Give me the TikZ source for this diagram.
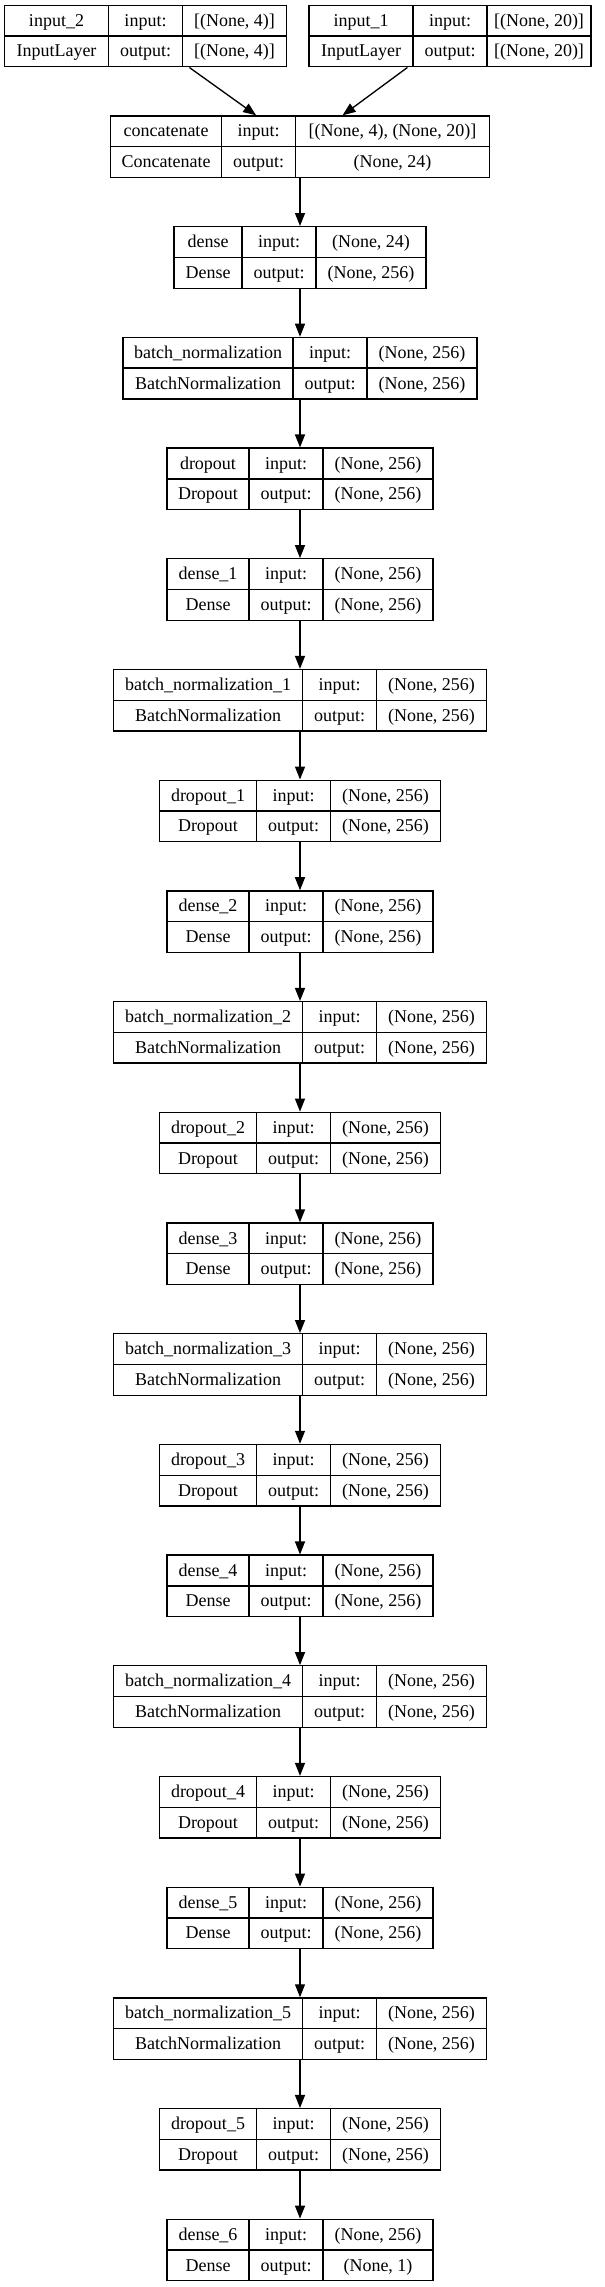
\documentclass[tikz,border=0pt]{standalone}
\usepackage{fontspec}
\setmainfont{Liberation Serif}
\usetikzlibrary{arrows.meta}

\tikzset{every picture/.style={line width=1pt}}
\tikzset{
  layer/.style={draw, rectangle, inner sep=0pt, minimum height=46.125pt},
  txt/.style={inner sep=0pt, anchor=base, font=\fontsize{13.5}{16}\selectfont},
  edge/.style={-{Triangle[length=9.75pt,width=7.5pt]}},
}

% record box: name, centre x, top y, first col, last col, layer, class, input, output
\newcommand{\layerbox}[9]{%
  \pgfmathsetmacro{\lbw}{#4+74+#5}%
  \pgfmathsetmacro{\lbl}{#2-\lbw/2}%
  \node[layer, minimum width=\lbw*0.75pt] (#1) at (#2,#3+30.75) {};
  \draw (#1.west) -- (#1.east);
  \draw (\lbl+#4,#3) -- ++(0,61.5);
  \draw (\lbl+#4+74,#3) -- ++(0,61.5);
  \node[txt] (#1-name) at (\lbl+#4/2,#3+21) {#6};
  \node[txt] (#1-class) at (\lbl+#4/2,#3+51.7) {#7};
  \node[txt] (#1-inlbl) at (\lbl+#4+37,#3+21) {input:};
  \node[txt] (#1-outlbl) at (\lbl+#4+37,#3+51.7) {output:};
  \node[txt] (#1-in) at (\lbl+#4+74+#5/2,#3+21) {#8};
  \node[txt] (#1-out) at (\lbl+#4+74+#5/2,#3+51.7) {#9};
}

\begin{document}
\begin{tikzpicture}[x=0.75pt,y=0.75pt,yscale=-1,xscale=1]
	\useasboundingbox (0,0) rectangle (605,2287);

	% Inputs
	\layerbox{in2}{145.5}{5.3}{104}{104}{input\_2}{InputLayer}{[(None, 4)]}{[(None, 4)]}
	\layerbox{in1}{450}{5.3}{104}{104}{input\_1}{InputLayer}{[(None, 20)]}{[(None, 20)]}
	\layerbox{concat}{300}{116}{111}{194}{concatenate}{Concatenate}{[(None, 4), (None, 20)]}{(None, 24)}

	% Block 0
	\layerbox{dense0}{300}{226.7}{68}{110}{dense}{Dense}{(None, 24)}{(None, 256)}
	\layerbox{bn0}{300}{337.4}{170}{110}{batch\_normalization}{BatchNormalization}{(None, 256)}{(None, 256)}
	\layerbox{drop0}{300}{448.1}{82}{110}{dropout}{Dropout}{(None, 256)}{(None, 256)}
	% Block 1
	\layerbox{dense1}{300}{558.8}{82}{110}{dense\_1}{Dense}{(None, 256)}{(None, 256)}
	\layerbox{bn1}{300}{669.5}{189}{110}{batch\_normalization\_1}{BatchNormalization}{(None, 256)}{(None, 256)}
	\layerbox{drop1}{300}{780.2}{97}{110}{dropout\_1}{Dropout}{(None, 256)}{(None, 256)}
	% Block 2
	\layerbox{dense2}{300}{890.9}{82}{110}{dense\_2}{Dense}{(None, 256)}{(None, 256)}
	\layerbox{bn2}{300}{1001.6}{189}{110}{batch\_normalization\_2}{BatchNormalization}{(None, 256)}{(None, 256)}
	\layerbox{drop2}{300}{1112.3}{97}{110}{dropout\_2}{Dropout}{(None, 256)}{(None, 256)}
	% Block 3
	\layerbox{dense3}{300}{1223.0}{82}{110}{dense\_3}{Dense}{(None, 256)}{(None, 256)}
	\layerbox{bn3}{300}{1333.7}{189}{110}{batch\_normalization\_3}{BatchNormalization}{(None, 256)}{(None, 256)}
	\layerbox{drop3}{300}{1444.4}{97}{110}{dropout\_3}{Dropout}{(None, 256)}{(None, 256)}
	% Block 4
	\layerbox{dense4}{300}{1555.1}{82}{110}{dense\_4}{Dense}{(None, 256)}{(None, 256)}
	\layerbox{bn4}{300}{1665.8}{189}{110}{batch\_normalization\_4}{BatchNormalization}{(None, 256)}{(None, 256)}
	\layerbox{drop4}{300}{1776.5}{97}{110}{dropout\_4}{Dropout}{(None, 256)}{(None, 256)}
	% Block 5
	\layerbox{dense5}{300}{1887.2}{82}{110}{dense\_5}{Dense}{(None, 256)}{(None, 256)}
	\layerbox{bn5}{300}{1997.9}{189}{110}{batch\_normalization\_5}{BatchNormalization}{(None, 256)}{(None, 256)}
	\layerbox{drop5}{300}{2108.6}{97}{110}{dropout\_5}{Dropout}{(None, 256)}{(None, 256)}
	% Output
	\layerbox{dense6}{300}{2219.3}{82}{110}{dense\_6}{Dense}{(None, 256)}{(None, 1)}

	% Edges
	\draw[edge] (in2) -- (concat);
	\draw[edge] (in1) -- (concat);
	\draw[edge] (concat) -- (dense0);
	\draw[edge] (dense0) -- (bn0);
	\draw[edge] (bn0) -- (drop0);
	\draw[edge] (drop0) -- (dense1);
	\draw[edge] (dense1) -- (bn1);
	\draw[edge] (bn1) -- (drop1);
	\draw[edge] (drop1) -- (dense2);
	\draw[edge] (dense2) -- (bn2);
	\draw[edge] (bn2) -- (drop2);
	\draw[edge] (drop2) -- (dense3);
	\draw[edge] (dense3) -- (bn3);
	\draw[edge] (bn3) -- (drop3);
	\draw[edge] (drop3) -- (dense4);
	\draw[edge] (dense4) -- (bn4);
	\draw[edge] (bn4) -- (drop4);
	\draw[edge] (drop4) -- (dense5);
	\draw[edge] (dense5) -- (bn5);
	\draw[edge] (bn5) -- (drop5);
	\draw[edge] (drop5) -- (dense6);

\end{tikzpicture}
\end{document}
